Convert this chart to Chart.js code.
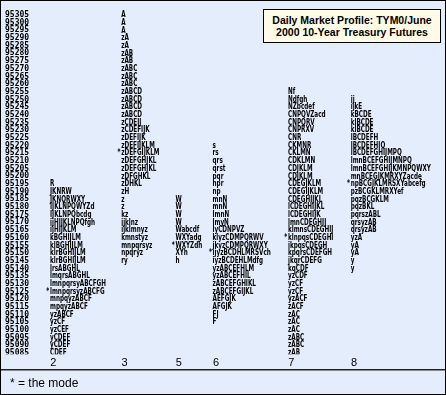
<!DOCTYPE html>
<html>
<head>
<meta charset="utf-8">
<script src="https://cdn.jsdelivr.net/npm/chart.js@4.4.1/dist/chart.umd.min.js"></script>
<style>
  body { margin: 0; }
  #wrap { position: relative; width: 446px; height: 395px; background: #e4edfc; overflow: hidden; }
  #wrap canvas { position: absolute; left: 0; top: 0; }
  #frame { position: absolute; left: 0; top: 0; width: 446px; height: 395px; box-sizing: border-box; border: 1px solid #000; pointer-events: none; }
  #title { position: absolute; left: 263px; top: 9px; width: 178px; height: 34px; box-sizing: border-box;
    border: 1px solid #000; background: #fffbe6; font: bold 10.5px "Liberation Sans", Arial, sans-serif;
    text-align: center; line-height: 12px; padding-top: 4px; color: #000; }
  #rule { position: absolute; left: 0; top: 369px; width: 446px; height: 1px; background: #222; box-shadow: 0 1px 0 #8a8a8a; }
  #note { position: absolute; left: 10px; top: 376px; font: 12px "Liberation Sans", Arial, sans-serif; color: #000; }
</style>
</head>
<body>
<div id="wrap">
  <canvas id="profile" width="446" height="395"></canvas>
  <div id="title">Daily Market Profile: TYM0/June<br>2000 10-Year Treasury Futures</div>
  <div id="rule"></div>
  <div id="note">* = the mode</div>
  <div id="frame"></div>
</div>
<script>
// price ladder (tick labels, top to bottom)
var prices = [95305, 95300, 95295, 95290, 95285, 95280, 95275, 95270, 95265, 95260,
  95255, 95250, 95245, 95240, 95235, 95230, 95225, 95220, 95215, 95210,
  95205, 95200, 95195, 95190, 95185, 95180, 95175, 95170, 95165, 95160,
  95155, 95150, 95145, 95140, 95135, 95130, 95125, 95120, 95115, 95110,
  95105, 95100, 95095, 95090, 95085];

// trading days
var days = ['2', '3', '5', '6', '7', '8'];
// highest price of each day's profile
var tops = [95195, 95305, 95185, 95220, 95255, 95250];
// mode price of each day
var modes = [95125, 95215, 95155, 95150, 95160, 95195];

// TPO letters per price, from the top price down
var day2 = ['R', 'JKNRW', 'JKNQRWXY', 'IJKLNPQWYZd', 'IJKLNPQbcdg', 'ijHIJKLNPQfgh', 'ijHIJKLM',
  'kBGHIJLM', 'klBGHIJLM', 'klrBGHIJLM', 'klrBGHIJLM', 'lrsABGHL', 'lmqrsABGHL', 'lmnpqrsyABCFGH',
  'lmnpqrsyzABCFG', 'mnpqyzABCF', 'mpqyzABCF', 'yzABCF', 'yzCF', 'yzCEF', 'yCDEF', 'yCDEF', 'CDEF'];
var day3 = ['A', 'A', 'A', 'zA', 'zA', 'zAB', 'zAB', 'zABC', 'zABC', 'zABC', 'zABCD', 'zABCD', 'zABCD',
  'zABCD', 'zCDEIJ', 'zCDEFIJK', 'zDEFIJK', 'zDEFIJKLM', 'zDEFGIJKLM', 'zDEFGHJKL', 'zDEFGHJKL',
  'zDFGHKL', 'zDHKL', 'zH', 'z', 'z', 'kz', 'ijklnz', 'ijklmnyz', 'kmnstyz', 'mnpqrsyz', 'npqryz', 'ry'];
var day5 = ['W', 'W', 'W', 'W', 'Wabcdf', 'WXYadg', 'WXYZdh', 'XYh', 'h'];
var day6 = ['s', 'rs', 'qrs', 'qrst', 'pqr', 'npr', 'np', 'mnN', 'mnN', 'lmnN', 'lmyN', 'lyCDNPVZ',
  'klyzCDMPQRWV', 'jkyzCDMPQRWXY', 'ijyzBCDHLMRSVch', 'iyzBCDEHLMdfg', 'yzABCEFHLM', 'yzABCEFHIL',
  'zABCEFGHIKL', 'zABCEFGIJKL', 'AEFGJK', 'AFGJK', 'FJ', 'F'];
var day7 = ['Nf', 'Ndfgh', 'NZbcdef', 'CNPQVZacd', 'CNPQRV', 'CNPRXV', 'CNR', 'CKMNR', 'CKLMN', 'CDKLMN',
  'CDJKLM', 'CDJKLM', 'CDEGJKLM', 'CDEGIJKLM', 'CDEGHIJKL', 'lCDEGHIJKL', 'lCDEGHIJK', 'lmnCDEGHIJ',
  'klmnsCDEGHIJ', 'klnpqsCDEGHI', 'ikpqsCDEGH', 'kpqrsCDEFGH', 'jkqrCDEFG', 'kqCDF', 'yzCDF', 'yzCF',
  'yzCF', 'yzACF', 'zACF', 'zAC', 'zAC', 'zAC', 'zABC', 'zABC', 'zAB'];
var day8 = ['ij', 'ijkE', 'kBCDE', 'klBCDE', 'klBCDE', 'lBCDEFH', 'lBCDEFHIQ', 'lBCDEFGHIJMPQ',
  'lmnBCEFGHIJMNPQ', 'lmnBCEFGHIJKMNPQWXY', 'mnBCEGJKMRXYZacde', 'npBCGJKLMRSXYabcefg', 'pzBCGKLMRXYef',
  'pqzBCGKLM', 'pqzBKL', 'pqrszABL', 'qrsyzAB', 'qrsyzAB', 'yzA', 'yA', 'yA', 'y', 'y'];

var profiles = [day2, day3, day5, day6, day7, day8];

var BG = '#e4edfc';
var letterFont = 'bold 8.5px "DejaVu Sans", sans-serif';
var CHAR_W = 4.0;  // average width of one letter in the original, px
var GAP = 2.75;    // empty TPO slots between two days

// each day starts after the widest row of the day before (x axis counts TPO slots)
var starts = [];
var pos = 0;
profiles.forEach(function (rows) {
  starts.push(pos);
  var widest = Math.max.apply(null, rows.map(function (r) { return r.length; }));
  pos += widest + GAP;
});

var datasets = profiles.map(function (rows, i) {
  var topIdx = prices.indexOf(tops[i]);
  return {
    label: days[i],
    data: rows.map(function (tpo, k) {
      var price = prices[topIdx + k];
      return { x: starts[i], y: String(price), tpo: tpo, mode: price === modes[i] };
    }),
    pointRadius: 0,
    showLine: false
  };
});

var profileText = {
  id: 'profileText',
  afterDatasetsDraw: function (chart) {
    var ctx = chart.ctx;
    ctx.save();
    ctx.font = letterFont;
    ctx.fillStyle = '#000';
    ctx.textBaseline = 'middle';
    // squeeze the letters to the narrow face of the original
    var sample = 'lmnpqrsyABCFGH';
    var k = CHAR_W * sample.length / ctx.measureText(sample).width;
    chart.data.datasets.forEach(function (ds, di) {
      chart.getDatasetMeta(di).data.forEach(function (pt, i) {
        var raw = ds.data[i];
        ctx.save();
        ctx.translate(pt.x, pt.y);
        ctx.scale(k, 1);
        ctx.textAlign = 'left';
        ctx.fillText(raw.tpo, 0, 0);
        if (raw.mode) {
          ctx.textAlign = 'right';
          ctx.fillText('*', -1, 0);
        }
        ctx.restore();
      });
    });
    // the lowest row is cut off in the original
    var b = chart.chartArea.bottom;
    ctx.fillStyle = BG;
    ctx.fillRect(0, b - 2.5, chart.width, 3.5);
    ctx.restore();
  }
};

new Chart(document.getElementById('profile'), {
  type: 'scatter',
  data: { datasets: datasets },
  plugins: [profileText],
  options: {
    responsive: false,
    animation: false,
    devicePixelRatio: 1,
    layout: { padding: { left: 5, right: 5, top: 11.16, bottom: 0 } },
    plugins: { legend: { display: false }, tooltip: { enabled: false } },
    scales: {
      x: {
        type: 'linear',
        min: -3,
        max: 92,
        grid: { display: false, drawTicks: false },
        border: { display: false },
        afterFit: function (scale) { scale.height = 38.2; },
        afterBuildTicks: function (scale) {
          scale.ticks = starts.map(function (s) { return { value: s + 0.8 }; });
        },
        ticks: {
          autoSkip: false,
          maxRotation: 0,
          padding: 0,
          color: '#000',
          font: { family: '"Liberation Sans", Arial, sans-serif', size: 11 },
          callback: function (v, i) { return days[i]; }
        }
      },
      y: {
        type: 'category',
        labels: prices.map(String),
        offset: true,
        grid: { display: false, drawTicks: false },
        border: { display: false },
        afterFit: function (scale) { scale.width = 32.25; },
        ticks: {
          autoSkip: false,
          crossAlign: 'far',
          padding: 0,
          color: '#000',
          font: { family: '"DejaVu Sans Mono", monospace', size: 8, weight: 'bold', lineHeight: 1 }
        }
      }
    }
  }
});
</script>
</body>
</html>
